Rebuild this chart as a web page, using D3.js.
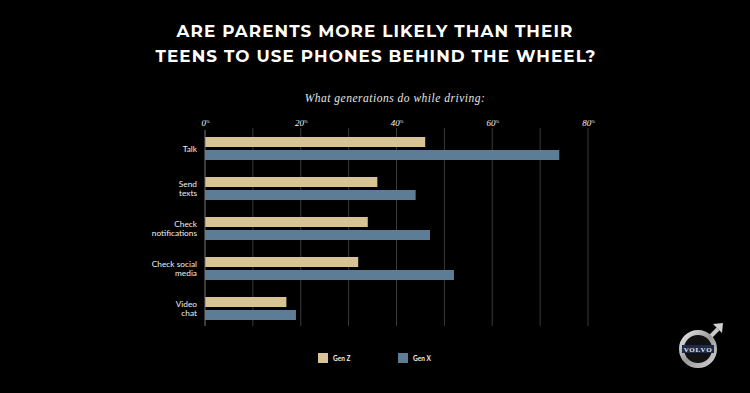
<!DOCTYPE html>
<html>
<head>
<meta charset="utf-8">
<script src="https://cdn.jsdelivr.net/npm/d3@7"></script>
<style>
  body { margin: 0; background: #000; }
  svg { display: block; }
</style>
</head>
<body>
<svg></svg>
<script>
// Chart data
const activities = [["Talk"], ["Send", "texts"], ["Check", "notifications"], ["Check social", "media"], ["Video", "chat"]];
const genZ = [46, 36, 34, 32, 17];
const genX = [74, 44, 47, 52, 19];
const seriesNames = ["Gen Z", "Gen X"];
const tickValues = [0, 20, 40, 60, 80];

const width = 750, height = 393;
const svg = d3.select("svg")
    .attr("width", width)
    .attr("height", height);

const colors = { "Gen Z": "#d8c397", "Gen X": "#5d7c95" };

// Title
const title = svg.append("g")
    .attr("font-family", "Montserrat, 'Open Sans', Lato, sans-serif")
    .attr("font-weight", 700)
    .attr("fill", "#fff")
    .attr("text-anchor", "middle")
    .attr("letter-spacing", "1.1px")
    .attr("font-size", 16.8);
title.append("text").attr("x", 375).attr("y", 37).text("ARE PARENTS MORE LIKELY THAN THEIR");
title.append("text").attr("x", 376).attr("y", 62).text("TEENS TO USE PHONES BEHIND THE WHEEL?");

svg.append("text")
    .attr("x", 395).attr("y", 102)
    .attr("text-anchor", "middle")
    .attr("font-family", "'Liberation Serif', 'DejaVu Serif', serif")
    .attr("font-style", "italic")
    .attr("font-size", 11.5)
    .attr("letter-spacing", "0.5px")
    .attr("fill", "#e6e6e6")
    .text("What generations do while driving:");

// Scales
const x = d3.scaleLinear().domain([0, 80]).range([205, 588]);
const y = d3.scaleBand().domain(d3.range(activities.length)).range([131, 331]);
const bandH = 10, gap = 3;

// Gridlines every 10
svg.append("g")
    .selectAll("line")
    .data(d3.range(10, 81, 10))
    .join("line")
    .attr("x1", d => x(d)).attr("x2", d => x(d))
    .attr("y1", 128).attr("y2", 326)
    .attr("stroke", "#3a3a3a")
    .attr("stroke-width", 1);

// Top axis labels
const axis = svg.append("g")
    .attr("transform", "translate(0,126)")
    .call(d3.axisTop(x).tickValues(tickValues).tickSize(0).tickPadding(0).tickFormat(d => d));
axis.select(".domain").remove();
axis.selectAll("text")
    .attr("fill", "#f2f2f2")
    .attr("font-family", "'Liberation Serif', serif")
    .attr("font-style", "italic")
    .attr("font-size", 9)
    .each(function () {
        d3.select(this).append("tspan")
            .attr("font-size", 4.5)
            .attr("dy", -3)
            .text("%");
    });

// Bars
const groups = svg.append("g")
    .selectAll("g")
    .data(activities.map((a, i) => ({ label: a, values: [genZ[i], genX[i]], i })))
    .join("g")
    .attr("transform", d => `translate(0,${y(d.i) + 6})`);

groups.selectAll("rect")
    .data(d => d.values.map((v, k) => ({ v, k })))
    .join("rect")
    .attr("x", x(0))
    .attr("y", d => d.k * (bandH + gap))
    .attr("width", d => x(d.v) - x(0))
    .attr("height", bandH)
    .attr("fill", d => colors[seriesNames[d.k]]);

// Zero line
svg.append("line")
    .attr("x1", x(0)).attr("x2", x(0))
    .attr("y1", 130).attr("y2", 326)
    .attr("stroke", "#777").attr("stroke-width", 1);

// Category labels
groups.append("text")
    .attr("text-anchor", "end")
    .attr("fill", "#f0f0f0")
    .attr("font-family", "Lato, 'Open Sans', sans-serif")
    .attr("font-size", 8.3)
    .selectAll("tspan")
    .data(d => d.label.map((t, j) => ({ t, j, n: d.label.length })))
    .join("tspan")
    .attr("x", 197)
    .attr("y", d => d.n === 1 ? 14.5 : 9.5 + d.j * 9)
    .text(d => d.t);

// Legend
const legend = svg.append("g")
    .selectAll("g")
    .data(seriesNames)
    .join("g")
    .attr("transform", (d, i) => `translate(${318 + i * 80},353)`);
legend.append("rect").attr("width", 10).attr("height", 10).attr("fill", d => colors[d]);
legend.append("text")
    .attr("x", 15).attr("y", 8)
    .attr("fill", "#eee")
    .attr("font-family", "Lato, sans-serif")
    .attr("font-weight", 700)
    .attr("font-size", 6.5)
    .text(d => d);

// Volvo logo
const logo = svg.append("g").attr("transform", "translate(698,349)");
const grad = svg.append("defs").append("linearGradient")
    .attr("id", "metal").attr("x1", 0).attr("y1", 0).attr("x2", 1).attr("y2", 1);
grad.append("stop").attr("offset", "0%").attr("stop-color", "#e8e8e8");
grad.append("stop").attr("offset", "50%").attr("stop-color", "#9a9a9a");
grad.append("stop").attr("offset", "100%").attr("stop-color", "#d0d0d0");
logo.append("path")
    .attr("d", "M12,-12 L20,-20")
    .attr("stroke", "#c8c8c8").attr("stroke-width", 4).attr("fill", "none");
logo.append("path")
    .attr("d", "M15,-25 L25,-26 L24,-16 Z")
    .attr("fill", "#cfcfcf");
logo.append("circle").attr("r", 16.5)
    .attr("fill", "#111").attr("stroke", "url(#metal)").attr("stroke-width", 5);
logo.append("rect").attr("x", -16).attr("y", -4).attr("width", 32).attr("height", 8).attr("fill", "#1d2a4a");
logo.append("text")
    .attr("text-anchor", "middle").attr("y", 2.7)
    .attr("font-family", "'Liberation Serif', serif").attr("font-weight", 700)
    .attr("font-size", 7).attr("letter-spacing", "0.8px").attr("fill", "#e8e8e8")
    .text("VOLVO");
</script>
</body>
</html>
